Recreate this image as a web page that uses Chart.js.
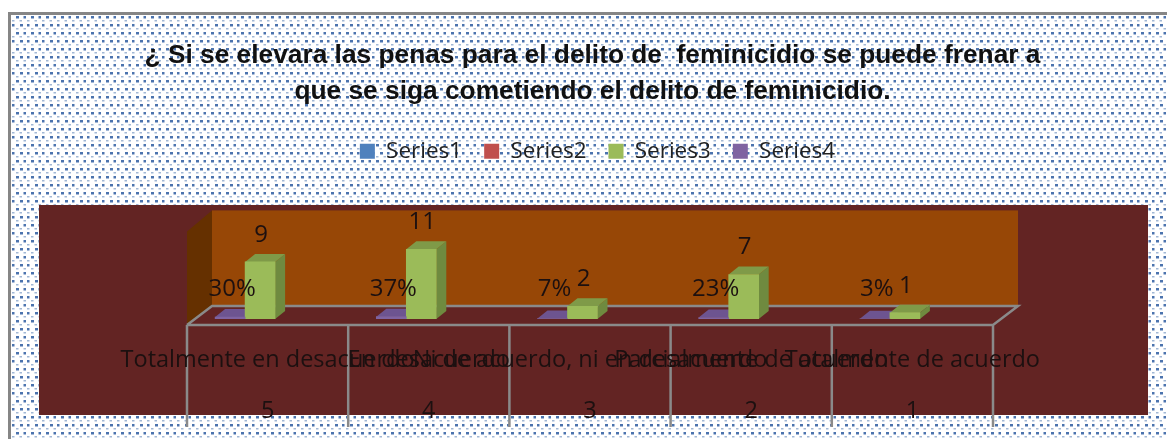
<!DOCTYPE html>
<html><head><meta charset="utf-8">
<style>html,body{margin:0;padding:0;background:#fff}canvas{display:block}</style>
<script src="https://cdn.jsdelivr.net/npm/chart.js@4/dist/chart.umd.js"></script>
</head><body>
<div style="width:1167px;height:439px"><canvas id="c" width="1167" height="439"></canvas></div>
<script>
const titleLines = ['¿ Si se elevara las penas para el delito de  feminicidio se puede frenar a','que se siga cometiendo el delito de feminicidio.'];
const categories = ['Totalmente en desacuerdo','En desacuerdo','Ni de acuerdo, ni en desacuerdo','Parcialmente de acuerdo','Totalmente de acuerdo'];
const codes = ['5','4','3','2','1'];
const series1 = [null,null,null,null,null];
const series2 = [null,null,null,null,null];
const series3 = [9,11,2,7,1];
const series4 = [0.30,0.37,0.07,0.23,0.03];

const INK='#1c1010', FONT='"Open Sans"';
const DX=25, DY=19, BDX=10, BDY=8, SHIFT=7.5;

function tile(){
  const t=document.createElement('canvas');t.width=15;t.height=16;
  const g=t.getContext('2d');g.fillStyle='#fff';g.fillRect(0,0,15,16);
  g.fillStyle='rgba(55,100,165,.9)';
  [[1,0,3,2.5],[8.5,0,2.5,2.5],[5,8,3,2.5],[12,8,2.5,2.5]].forEach(r=>g.fillRect(...r));
  g.fillStyle='rgba(85,125,178,.55)';
  [[4.5,4,2.5,1.5],[12,4,2.5,1.5],[1,12,2.5,1.5],[8.5,12,2.5,1.5]].forEach(r=>g.fillRect(...r));
  return t;
}

const scene={id:'scene',
  afterLayout(chart){const t=chart.titleBlock,a=chart.chartArea;t.left=a.left-102;t.right=a.right+92;},
  beforeDraw(chart){
    const c=chart.ctx,a=chart.chartArea,x=chart.scales.x,y=chart.scales.y;
    c.save();
    c.fillStyle='#fff';c.fillRect(0,0,1167,439);
    c.fillStyle=c.createPattern(tile(),'repeat');c.fillRect(9,14,1158,425);
    c.strokeStyle='#868686';c.lineWidth=3;c.beginPath();c.moveTo(9.5,439);c.lineTo(9.5,13.5);c.lineTo(1167,13.5);c.stroke();
    c.fillStyle='#632423';c.fillRect(39,205,1109,210);
    const L=a.left-SHIFT,R=a.right-SHIFT,F=y.getPixelForValue(0)+6,T=y.getPixelForValue(15)+7.5;
    // back wall
    c.fillStyle='#974706';c.fillRect(L+DX,T-21,R-L,F-DY-T+21);
    c.fillStyle='#653000';c.beginPath();c.moveTo(L,T);c.lineTo(L+DX,T-21);c.lineTo(L+DX,F-DY);c.lineTo(L,F);c.closePath();c.fill();
    // floor
    c.fillStyle='#632423';c.beginPath();c.moveTo(L,F);c.lineTo(L+DX,F-DY);c.lineTo(R+DX,F-DY);c.lineTo(R,F);c.closePath();c.fill();
    c.strokeStyle='#8a8a8a';c.lineWidth=2.5;c.beginPath();
    c.moveTo(L,F);c.lineTo(R,F);c.lineTo(R+DX,F-DY);c.lineTo(L+DX,F-DY);c.lineTo(L,F);
    const n=categories.length;
    for(let i=0;i<=n;i++){const px=L+(R-L)*i/n;c.moveTo(px,F);c.lineTo(px,F+102);}
    c.stroke();
    c.restore();
  },
  beforeDatasetsDraw(chart){
    const c=chart.ctx;
    [[3,'#5f4a7b','#6d5490'],[2,'#6f8a3f','#7f9a48']].forEach(([i,side,top])=>{
      chart.getDatasetMeta(i).data.forEach(b=>{
        const l=b.x-b.width/2,r=b.x+b.width/2,t=b.y,base=b.base;
        c.fillStyle=side;c.beginPath();c.moveTo(r,t);c.lineTo(r+BDX,t-BDY);c.lineTo(r+BDX,base-BDY);c.lineTo(r,base);c.closePath();c.fill();
        c.fillStyle=top;c.beginPath();c.moveTo(l,t);c.lineTo(l+BDX,t-BDY);c.lineTo(r+BDX,t-BDY);c.lineTo(r,t);c.closePath();c.fill();
      });
    });
  },
  afterDatasetsDraw(chart){
    const c=chart.ctx;c.save();c.fillStyle=INK;c.font='24px '+FONT;c.textAlign='center';c.textBaseline='middle';
    chart.getDatasetMeta(2).data.forEach((b,i)=>c.fillText(series3[i],b.x+1,b.y-27));
    chart.getDatasetMeta(3).data.forEach((b,i)=>c.fillText(Math.round(series4[i]*100)+'%',b.x+2,b.base-30));
    c.restore();
  }
};

const bar=(label,data,color,order)=>({label,data,backgroundColor:color,order,barThickness:30});
new Chart(document.getElementById('c'),{
  type:'bar',
  data:{labels:categories.map((t,i)=>[t,'',codes[i]]),datasets:[
    bar('Series1',series1,'#4f81bd',2),
    bar('Series2',series2,'#c0504d',3),
    bar('Series3',series3,'#9bbb59',1),
    bar('Series4',series4,'#7f63a1',0)
  ]},
  plugins:[scene],
  options:{
    responsive:false,animation:false,
    layout:{padding:{left:194.5,right:166.5,top:0,bottom:0}},
    plugins:{
      tooltip:{enabled:false},
      title:{display:true,text:titleLines,color:'#111',font:{family:'"Liberation Sans"',size:26.3,weight:'bold',lineHeight:1.37},padding:{top:38,bottom:8}},
      legend:{position:'top',labels:{font:{family:FONT,size:22.5},color:'#222',boxWidth:15,boxHeight:15,padding:22,sort:(a,b)=>a.datasetIndex-b.datasetIndex}}
    },
    scales:{
      x:{grid:{display:false},border:{display:false},afterFit:s=>{s.height=120;},
         ticks:{autoSkip:false,maxRotation:0,minRotation:0,labelOffset:-SHIFT,padding:21,color:INK,font:{family:FONT,size:23.5,lineHeight:1.085}}},
      y:{display:false,min:0,max:23.1}
    }
  }
});
</script>
</body></html>
